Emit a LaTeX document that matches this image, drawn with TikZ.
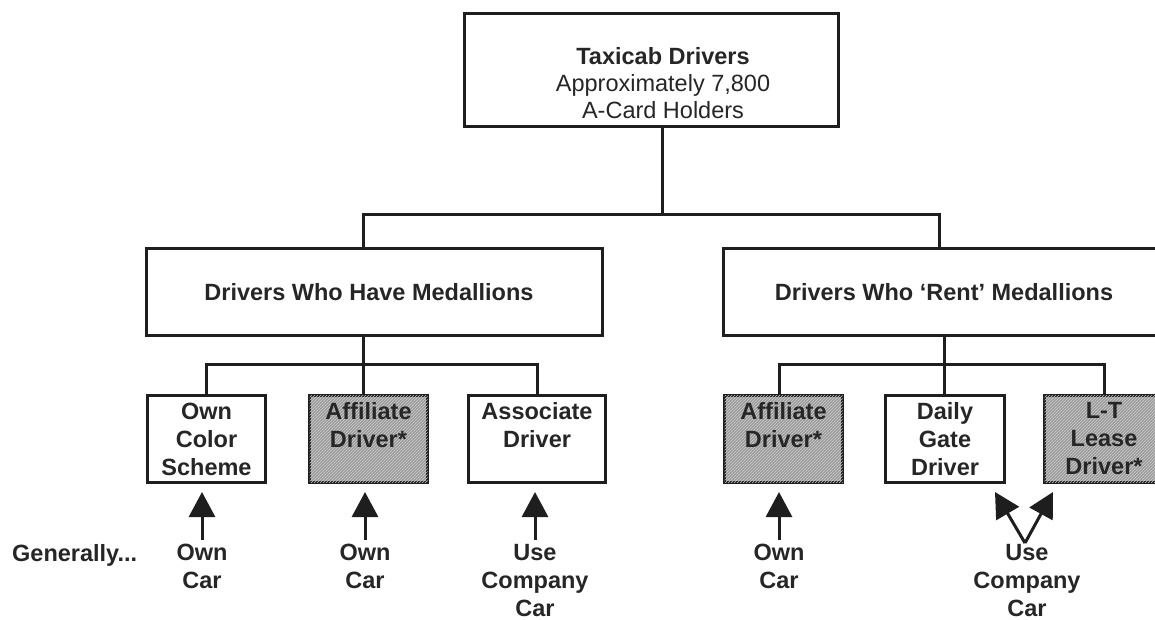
\documentclass[tikz,border=0pt]{standalone}
\usepackage{fontspec}
\setmainfont{Liberation Sans}
\usetikzlibrary{arrows.meta,patterns,calc}
\definecolor{ink}{HTML}{1E1E1E}
\definecolor{txt}{HTML}{262626}
\tikzset{
  box/.style={draw=ink, line width=3pt, rectangle, inner sep=0pt, fill=white},
  shaded/.style={box, fill=gray!78, postaction={pattern=north east lines, pattern color=gray!40}},
  lbl/.style={text=txt, align=center, inner sep=0pt, font=\fontsize{23.5}{28}\selectfont\bfseries},
  toplbl/.style={text=txt, align=center, inner sep=0pt, font=\fontsize{23.5}{27}\selectfont},
  conn/.style={draw=ink, line width=3pt},
  arr/.style={draw=ink, line width=3pt, -{Triangle[length=25pt,width=26pt]}}
}
\begin{document}
\begin{tikzpicture}[x=1pt,y=-1pt]
\useasboundingbox (0,0) rectangle (1155,620);
\fill[white] (0,0) rectangle (1155,620);

% boxes
\node[box, minimum width=374pt, minimum height=113pt] (top) at (651.5,70) {};
\node[toplbl] (toptext) at (663,83) {{\bfseries Taxicab Drivers}\\Approximately 7,800\\A-Card Holders};

\node[box, minimum width=456pt, minimum height=87pt] (ml) at (374.5,292) {};
\node[lbl] (mltext) at (369,292) {Drivers Who Have Medallions};
\node[box, minimum width=441pt, minimum height=87pt] (mr) at (944,292) {};
\node[lbl] (mrtext) at (944,292) {Drivers Who `Rent' Medallions};

\node[box, minimum width=118pt, minimum height=87pt] (b1) at (206.5,439) {};
\node[lbl] (b1t) at (206.5,439) {Own\\Color\\Scheme};
\node[shaded, minimum width=118pt, minimum height=87pt] (b2) at (368.5,439) {};
\node[lbl] (b2t) at (368.5,425) {Affiliate\\Driver*};
\node[box, minimum width=137pt, minimum height=87pt] (b3) at (537,439) {};
\node[lbl] (b3t) at (537,425) {Associate\\Driver};
\node[shaded, minimum width=118pt, minimum height=87pt] (b4) at (783.5,439) {};
\node[lbl] (b4t) at (783.5,425) {Affiliate\\Driver*};
\node[box, minimum width=119pt, minimum height=87pt] (b5) at (945,439) {};
\node[lbl] (b5t) at (945,439) {Daily\\Gate\\Driver};
\node[shaded, minimum width=119pt, minimum height=87pt] (b6) at (1104,439) {};
\node[lbl] (b6t) at (1104,439) {L-T\\Lease\\Driver*};

% connectors
\coordinate (j1) at (662,215);
\coordinate (hl) at (363,215);
\coordinate (hr) at (939,215);
\draw[conn] (top.south -| j1) -- (j1);
\draw[conn] (ml.north -| hl) -- (hl) -- (hr) -- (hr |- mr.north);

\coordinate (ll) at (363,364);
\draw[conn] (ml.south -| ll) -- (b2.north -| ll);
\draw[conn] (b1.north) |- (ll) -| (b3.north);

\coordinate (lr) at (944,364);
\coordinate (b4c) at (779,364);
\draw[conn] (mr.south -| lr) -- (b5.north -| lr);
\draw[conn] (b4.north -| b4c) |- (lr) -| (b6.north);

% bottom labels
\node[lbl, anchor=west] (gen) at (12,555) {Generally...};
\node[lbl, anchor=north] (c1) at (202,544) {Own\\Car};
\node[lbl, anchor=north] (c2) at (365,544) {Own\\Car};
\node[lbl, anchor=north] (c3) at (535,544) {Use\\Company\\Car};
\node[lbl, anchor=north] (c4) at (779,544) {Own\\Car};
\node[lbl, anchor=north] (c5) at (1027,544) {Use\\Company\\Car};

% arrows
\draw[arr] ($(c1.north)+(0,-4)$) -- ($(b1.south -| c1.north)+(0,8)$);
\draw[arr] ($(c2.north)+(0,-4)$) -- ($(b2.south -| c2.north)+(0,8)$);
\draw[arr] ($(c3.north)+(0,-4)$) -- ($(b3.south -| c3.north)+(0,8)$);
\draw[arr] ($(c4.north)+(0,-4)$) -- ($(b4.south -| c4.north)+(0,8)$);
\coordinate (vtx) at (1025,543);
\draw[arr] (vtx) -- ($(b5.south east)+(-11,8)$);
\draw[arr] (vtx) -- ($(b6.south west)+(10,8)$);
\end{tikzpicture}
\end{document}
